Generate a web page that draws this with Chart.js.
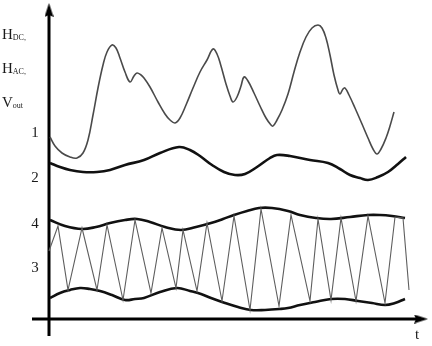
<!DOCTYPE html>
<html>
<head>
<meta charset="utf-8">
<script src="https://cdn.jsdelivr.net/npm/chart.js@4/dist/chart.umd.min.js"></script>
<style>
  html, body { margin: 0; padding: 0; background: #fff; }
  #wrap { position: relative; width: 432px; height: 346px; }
</style>
</head>
<body>
<div id="wrap"><canvas id="chart" width="432" height="346"></canvas></div>
<script>
// [t, value] pairs
const curve1 = [[1,182],[6,173],[13,166],[21,162],[28,161],[34,166],[39,179],[44,204],[49,231],[54,254],[58,267],[63,274],[67,271],[71,261],[76,247],[81,237],[85,243],[88,246],[92,244],[95,241],[101,232],[109,217],[116,205],[121,199],[126,196],[131,201],[137,214],[144,231],[151,247],[158,259],[164,270],[168,265],[172,253],[177,235],[181,223],[184,217],[188,222],[192,233],[195,242],[199,238],[205,226],[211,213],[217,201],[222,194],[224,193],[228,199],[233,209],[239,225],[245,247],[251,267],[257,282],[263,291],[269,294],[273,291],[277,281],[281,264],[285,244],[289,229],[291,225],[294,230],[296,231],[300,224],[306,211],[313,195],[319,181],[324,170],[328,165],[332,170],[337,181],[341,193],[345,207]];
const curve2 = [[1,156],[11,152],[21,149],[34,147],[48,147],[61,149],[76,154],[95,159],[111,166],[130,172],[141,169],[151,163],[163,154],[175,147],[186,144],[196,145],[208,152],[221,161],[228,164],[241,163],[261,159],[279,156],[291,150],[301,144],[311,141],[319,139],[329,142],[339,147],[349,155],[357,162]];
const upperEnv = [[1,99],[16,93],[33,90],[47,92],[61,96],[76,99],[88,100],[101,97],[116,92],[132,89],[147,92],[162,96],[174,100],[185,104],[198,108],[210,111],[223,111],[239,108],[251,104],[267,101],[282,100],[301,102],[319,104],[331,104],[343,103],[356,101]];
const lowerEnv = [[1,21],[11,26],[21,29],[31,31],[41,30],[51,28],[63,24],[76,19],[86,20],[95,21],[111,27],[128,31],[141,28],[152,25],[162,21],[176,16],[189,12],[202,9],[216,9],[231,10],[239,11],[251,14],[266,17],[282,20],[296,20],[309,18],[323,16],[336,14],[346,16],[356,20]];
const zigzag = [[0,68],[9,93],[19,29],[33,91],[48,29],[58,94],[74,19],[86,99],[102,26],[113,91],[127,31],[134,89],[148,28],[158,96],[173,18],[185,103],[201,9],[212,110],[230,13],[242,104],[261,18],[269,100],[282,19],[292,101],[307,18],[319,103],[336,16],[346,102],[354,101],[360,29]];

const yAxisLine = [[0,-17],[0,309]];
const xAxisLine = [[-17,0],[372,0]];

const levelLabels = ['1', '2', '4', '3'];
const levelValues = [186, 141, 95, 51];
const titleMain = ['H', 'H', 'V'];
const titleSub = ['DC,', 'AC,', 'out'];
const titleValues = [280, 246, 212];
const timeLabel = 't';

const pts = arr => arr.map(([x, y]) => ({ x, y }));

// narrow filled arrow head, used as a point style at the axis ends
function arrowHead(w, h) {
  const c = document.createElement('canvas');
  c.width = w;
  c.height = h;
  const g = c.getContext('2d');
  g.fillStyle = '#000';
  g.beginPath();
  g.moveTo(w / 2, 0);
  g.lineTo(w, h);
  g.lineTo(w / 2, h - 2);
  g.lineTo(0, h);
  g.closePath();
  g.fill();
  return c;
}
const arrow = arrowHead(9, 14);

const textPlugin = {
  id: 'textPlugin',
  afterDatasetsDraw(chart) {
    const { ctx, scales: { x, y } } = chart;
    ctx.save();
    ctx.fillStyle = '#1a1a1a';
    ctx.textBaseline = 'alphabetic';
    ctx.textAlign = 'left';
    titleMain.forEach((m, i) => {
      const px = x.getPixelForValue(-47);
      const py = y.getPixelForValue(titleValues[i]);
      ctx.font = '15px "Liberation Serif"';
      ctx.fillText(m, px, py);
      const w = ctx.measureText(m).width;
      ctx.font = '8px "Liberation Serif"';
      ctx.fillText(titleSub[i], px + w, py + 1);
    });
    ctx.font = '15px "Liberation Serif"';
    ctx.textAlign = 'center';
    ctx.textBaseline = 'middle';
    levelLabels.forEach((l, i) => {
      ctx.fillText(l, x.getPixelForValue(-14), y.getPixelForValue(levelValues[i]));
    });
    ctx.fillText(timeLabel, x.getPixelForValue(368), y.getPixelForValue(-16));
    ctx.restore();
  }
};

const thick = { borderColor: '#111', borderWidth: 2.6, pointRadius: 0, tension: 0.4 };
const axis = { borderColor: '#000', borderWidth: 3, pointRadius: [0, 5], pointStyle: arrow };

new Chart(document.getElementById('chart'), {
  type: 'scatter',
  data: {
    datasets: [
      { data: pts(curve1), showLine: true, borderColor: '#4a4a4a', borderWidth: 1.6, pointRadius: 0, tension: 0.4 },
      { data: pts(curve2), showLine: true, ...thick },
      { data: pts(zigzag), showLine: true, borderColor: '#5e5e5e', borderWidth: 1.1, pointRadius: 0, tension: 0 },
      { data: pts(upperEnv), showLine: true, ...thick },
      { data: pts(lowerEnv), showLine: true, ...thick },
      { data: pts(yAxisLine), showLine: true, ...axis, pointRotation: 0 },
      { data: pts(xAxisLine), showLine: true, ...axis, pointRotation: 90 }
    ]
  },
  options: {
    responsive: false,
    animation: false,
    devicePixelRatio: 1,
    layout: { padding: 0, autoPadding: false },
    plugins: { legend: { display: false }, tooltip: { enabled: false } },
    scales: {
      x: { type: 'linear', min: -49, max: 383, display: false },
      y: { type: 'linear', min: -27, max: 319, display: false }
    }
  },
  plugins: [textPlugin]
});
</script>
</body>
</html>
